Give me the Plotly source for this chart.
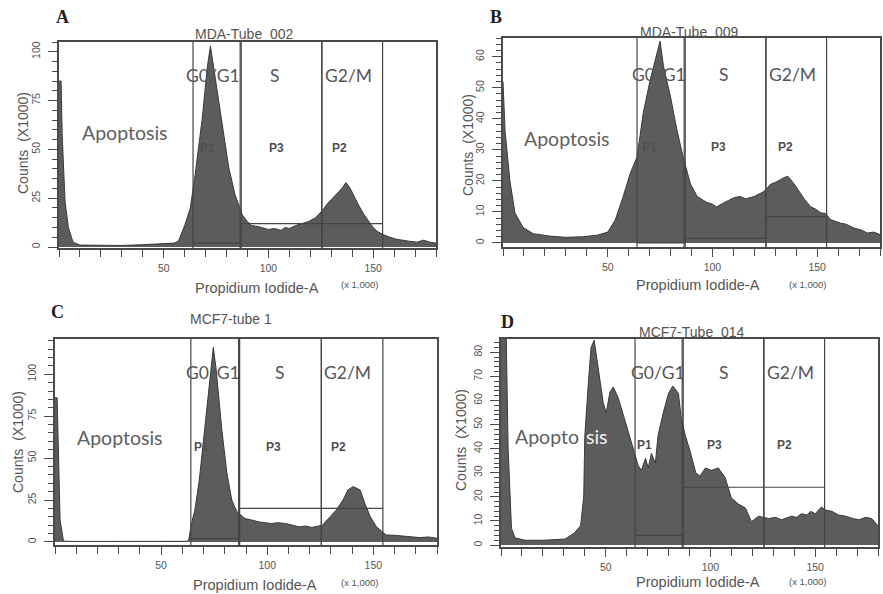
import plotly.graph_objects as go

### data (PI in x1000, counts in x1000)

A_pi = [0, 1, 1.5, 2.9, 4.5, 6.7, 10, 20, 30, 40, 50, 55, 57, 60, 62.7, 65, 68.4, 70.8, 72.3, 74.6, 78, 81, 84,
        87.5, 90, 92, 95, 97, 100, 103, 106, 108, 110, 113, 116, 119, 122.5, 126, 128, 130.6, 133.5, 135, 137,
        138.5, 140, 143, 146, 148, 150, 152, 154.5, 158, 161, 167, 171, 174, 177, 180]
A_counts = [85, 85, 58, 23, 10, 2.5, 1, 0.8, 0.8, 1.2, 1.5, 2, 3, 11, 20, 37, 66, 92, 103, 87, 61, 41, 27,
            16.5, 13, 11, 10.5, 10, 9, 9.5, 8.5, 10, 9.5, 11, 12, 13, 15, 19, 22, 25, 28, 30, 33,
            31, 28, 21.5, 16, 13, 10, 8, 6.5, 5, 4, 3, 2.5, 3.5, 2.5, 2]

B_pi = [0, 1, 3.3, 5.7, 9.6, 14.4, 22.5, 30, 38, 45, 50, 53.6, 57.4, 60.8, 64, 67, 70.3, 73.6, 75, 76.6, 80, 83,
        86, 89.5, 92.7, 95, 97.5, 100, 102, 105, 107, 110, 113, 116, 120, 124.4, 128, 130, 132.5, 134, 136,
        139, 142, 144, 147, 149, 151.7, 154, 156.5, 161, 164, 167.5, 171, 174, 177, 180]
B_counts = [52, 36, 20, 9.7, 5, 3, 2.2, 1.8, 2, 2.5, 3.5, 7.4, 15, 22.5, 27.7, 42, 52.6, 62, 65, 57, 47, 36.5,
            27.7, 19, 15, 14, 13, 12.5, 11.6, 12.8, 13.4, 14.5, 15, 14.2, 15, 16.5, 19, 19.5, 20.4, 21, 21.5,
            19, 16, 14, 11.6, 11, 9.7, 9.5, 7.5, 6.4, 6, 4.8, 4.2, 3.2, 3.5, 2.7]

C_pi = [0, 1, 2.4, 4, 10, 20, 30, 40, 50, 60, 62, 63, 64.3, 65.9, 68, 70.5, 73, 74.6, 76, 78.6, 81, 83.3, 85.7,
        89.5, 93, 96, 99, 102, 105, 108.7, 112, 115, 118, 121, 126, 129.5, 132.5, 135.7, 138, 140.5, 142,
        143.8, 146, 148.6, 151.5, 156, 160, 163, 168, 172, 176, 180]
C_counts = [86, 86, 13, 0.5, 0.3, 0.3, 0.3, 0.3, 0.3, 0.3, 0.4, 1, 11, 19, 37, 67, 96, 116, 102, 67, 41, 25, 18,
            14, 13, 12, 11.5, 11, 11.5, 11, 10, 9, 9.5, 8.7, 10, 15, 19, 25, 31, 33, 32,
            31, 23, 15, 9, 4.2, 4, 3.6, 3, 2.6, 3, 2.2]

D_pi = [0, 2.5, 3.4, 5, 6.7, 11.5, 20, 30.6, 35, 38, 39.5, 40, 41.6, 43, 44.5, 46.4, 48.8, 50.3, 52, 53.6, 56,
        58.4, 60.8, 63, 65.5, 67, 69, 70.3, 71.8, 73.7, 75, 77.5, 80, 82, 84.7, 86, 88, 90.4, 93, 95, 97.6,
        100.5, 103.8, 107, 110, 113.4, 116.7, 119.6, 123, 127.8, 131, 134, 136, 138.8, 141, 143.5, 146, 148,
        150, 153, 155, 158, 161, 164.6, 168, 171, 174, 177, 180]
D_counts = [86, 86, 40, 7, 3, 2, 2, 2.5, 5, 8, 20, 45, 66, 82, 85, 74, 59, 55, 63.5, 65.6, 61, 54, 47, 40, 33,
            31, 36, 32, 38, 34, 45.6, 55, 63, 66, 63, 53, 45.5, 38.6, 30, 28.6, 32, 31, 32, 28, 19.5, 17, 15.4,
            9.7, 12, 11, 11.5, 10.5, 11, 12, 11.5, 13, 12.5, 14, 13, 15.8, 14.5, 14, 12.5, 12, 11, 10.5, 11.5,
            11, 8]

# gate bounds (x) and gate levels (y) per panel: P1, P3, P2
gate_names = ["P1", "P3", "P2"]
gate_lo = [64, 87, 125.5]
gate_hi = [86.5, 125.5, 154.5]
A_gate_level = [2, 12, 12]
B_gate_level = [0, 1.5, 8.5]
C_gate_level = [2, 20, 20]
D_gate_level = [4, 24, 24]

phases = ["G0/G1", "S", "G2/M"]

W, H = 883, 594
def px(x):
    return x / W
def py(y):
    return 1 - y / H

# box in pixels: left, right, top, bottom
panels = [
    dict(letter="A", title="MDA-Tube  002", x=A_pi, y=A_counts, gates=A_gate_level,
         box=(59, 436, 42, 248), yr=[-0.5, 105], dtick=25, minor=5,
         letter_xy=(62, 17), title_xy=(244, 34), xt_xy=(257, 288), x1k_xy=(360, 284), yt_xy=(23, 143),
         apo_x=31.5, apo_y=0.56, ph_x=[73.7, 103, 138], ph_y=0.90, p_x=[70.8, 104, 134], p_y=0.485),
    dict(letter="B", title="MDA-Tube  009", x=B_pi, y=B_counts, gates=B_gate_level,
         box=(503, 880, 38, 247), yr=[-1.3, 66], dtick=10, minor=2,
         letter_xy=(496, 17), title_xy=(689, 32), xt_xy=(698, 285), x1k_xy=(808, 284), yt_xy=(468, 145),
         apo_x=30.6, apo_y=0.52, ph_x=[74.6, 105.7, 138], ph_y=0.885, p_x=[70, 103, 135], p_y=0.48),
    dict(letter="C", title="MCF7-tube 1", x=C_pi, y=C_counts, gates=C_gate_level,
         box=(55, 437, 339, 545), yr=[-1.8, 121], dtick=25, minor=5,
         letter_xy=(58, 312), title_xy=(231, 319), xt_xy=(255, 585), x1k_xy=(360, 582), yt_xy=(18, 442),
         apo_x=30.7, apo_y=0.52, ph_x=[74.5, 106, 137.7], ph_y=0.90, p_x=[69, 103, 133.5], p_y=0.475),
    dict(letter="D", title="MCF7-Tube  014", x=D_pi, y=D_counts, gates=D_gate_level,
         box=(501, 878, 339, 547), yr=[-0.8, 85.5], dtick=10, minor=2,
         letter_xy=(508, 322), title_xy=(692, 332), xt_xy=(698, 582), x1k_xy=(808, 581), yt_xy=(461, 440),
         apo_x=24, apo_y=0.53, ph_x=[75, 106.7, 138], ph_y=0.90, p_x=[68.4, 102, 135.5], p_y=0.49),
]

fig = go.Figure()
layout = {}
shapes = []
annotations = []
axis_color = "#4a4a4a"
text_color = "#555555"

for i, p in enumerate(panels):
    n = "" if i == 0 else str(i + 1)
    xa, ya = "x" + n, "y" + n
    l, r, t, b = p["box"]

    fig.add_trace(go.Scatter(x=p["x"], y=p["y"], xaxis=xa, yaxis=ya, mode="lines",
                             line=dict(color="#3a3a3a", width=1), fill="tozeroy",
                             fillcolor="#5c5c5c", showlegend=False, hoverinfo="skip"))

    layout["xaxis" + n] = dict(
        domain=[px(l), px(r)], anchor=ya, range=[0, 180], showgrid=False, zeroline=False,
        showline=True, mirror=True, linecolor=axis_color, linewidth=1.5,
        tickmode="array", tickvals=[50, 100, 150], ticks="outside", ticklen=8, tickcolor=axis_color,
        ticklabelstandoff=2,
        minor=dict(tickmode="linear", tick0=0, dtick=10, ticks="outside", ticklen=7, tickcolor=axis_color),
        tickfont=dict(family="Liberation Sans", size=10.5, color=text_color))
    layout["yaxis" + n] = dict(
        domain=[py(b), py(t)], anchor=xa, range=p["yr"], showgrid=False, zeroline=False,
        showline=True, mirror=True, linecolor=axis_color, linewidth=1.5,
        tick0=0, dtick=p["dtick"], ticks="outside", ticklen=9, tickcolor=axis_color, tickangle=-90,
        ticklabelstandoff=4,
        minor=dict(tick0=0, dtick=p["minor"], ticks="outside", ticklen=5, tickcolor=axis_color),
        tickfont=dict(family="Liberation Sans", size=10.5, color=text_color))

    # gates
    for lo, hi, lev in zip(gate_lo, gate_hi, p["gates"]):
        for gx in (lo, hi):
            shapes.append(dict(type="line", xref=xa, yref=ya + " domain", x0=gx, x1=gx, y0=0, y1=1,
                               line=dict(color="#444444", width=1.2)))
        shapes.append(dict(type="line", xref=xa, yref=ya, x0=lo, x1=hi, y0=lev, y1=lev,
                           line=dict(color="#444444", width=1.2)))

    # texts in pixel positions
    def ann(text, xy, size, family="Liberation Sans", color=text_color, angle=0, bold=False):
        annotations.append(dict(text="<b>%s</b>" % text if bold else text, xref="paper", yref="paper",
                                x=px(xy[0]), y=py(xy[1]), showarrow=False, textangle=angle,
                                xanchor="center", yanchor="middle",
                                font=dict(family=family, size=size, color=color)))

    ann(p["letter"], p["letter_xy"], 18, family="Liberation Serif", color="#222222", bold=True)
    ann(p["title"].replace(" ", "\u00a0"), p["title_xy"], 14)
    ann("Propidium Iodide-A", p["xt_xy"], 14.5)
    ann("(x 1,000)", p["x1k_xy"], 9.5)
    ann("Counts\u00a0\u00a0(X1000)", p["yt_xy"], 14, angle=-90)

    # phase and population labels
    if p["letter"] == "D":
        annotations.append(dict(text="Apopto", xref=xa, yref=ya + " domain", x=p["apo_x"] + 14, y=p["apo_y"],
                                xanchor="right", yanchor="middle", showarrow=False,
                                font=dict(family="Lato", size=19.5, color="#606060")))
        annotations.append(dict(text="sis", xref=xa, yref=ya + " domain", x=p["apo_x"] + 15.5, y=p["apo_y"],
                                xanchor="left", yanchor="middle", showarrow=False,
                                font=dict(family="Lato", size=19.5, color="#f2f2f2")))
    else:
        annotations.append(dict(text="Apoptosis", xref=xa, yref=ya + " domain", x=p["apo_x"], y=p["apo_y"],
                                showarrow=False, font=dict(family="Lato", size=19.5, color="#606060")))
    for ph, phx in zip(phases, p["ph_x"]):
        annotations.append(dict(text=ph, xref=xa, yref=ya + " domain", x=phx, y=p["ph_y"], showarrow=False,
                                font=dict(family="Lato", size=17.5, color="#555555")))
    for gn, gx in zip(gate_names, p["p_x"]):
        annotations.append(dict(text="<b>%s</b>" % gn, xref=xa, yref=ya + " domain", x=gx, y=p["p_y"],
                                showarrow=False, font=dict(family="Liberation Sans", size=12, color="#505050")))

fig.update_layout(**layout)
fig.update_layout(width=W, height=H, margin=dict(l=0, r=0, t=0, b=0),
                  paper_bgcolor="white", plot_bgcolor="white",
                  shapes=shapes, annotations=annotations, showlegend=False)

# page body has a default 8px margin; drop it so the figure fills the window
fig.write_html("out.html", config={"displayModeBar": False},
               post_script="document.body.style.margin='0';document.body.style.overflow='hidden';")
